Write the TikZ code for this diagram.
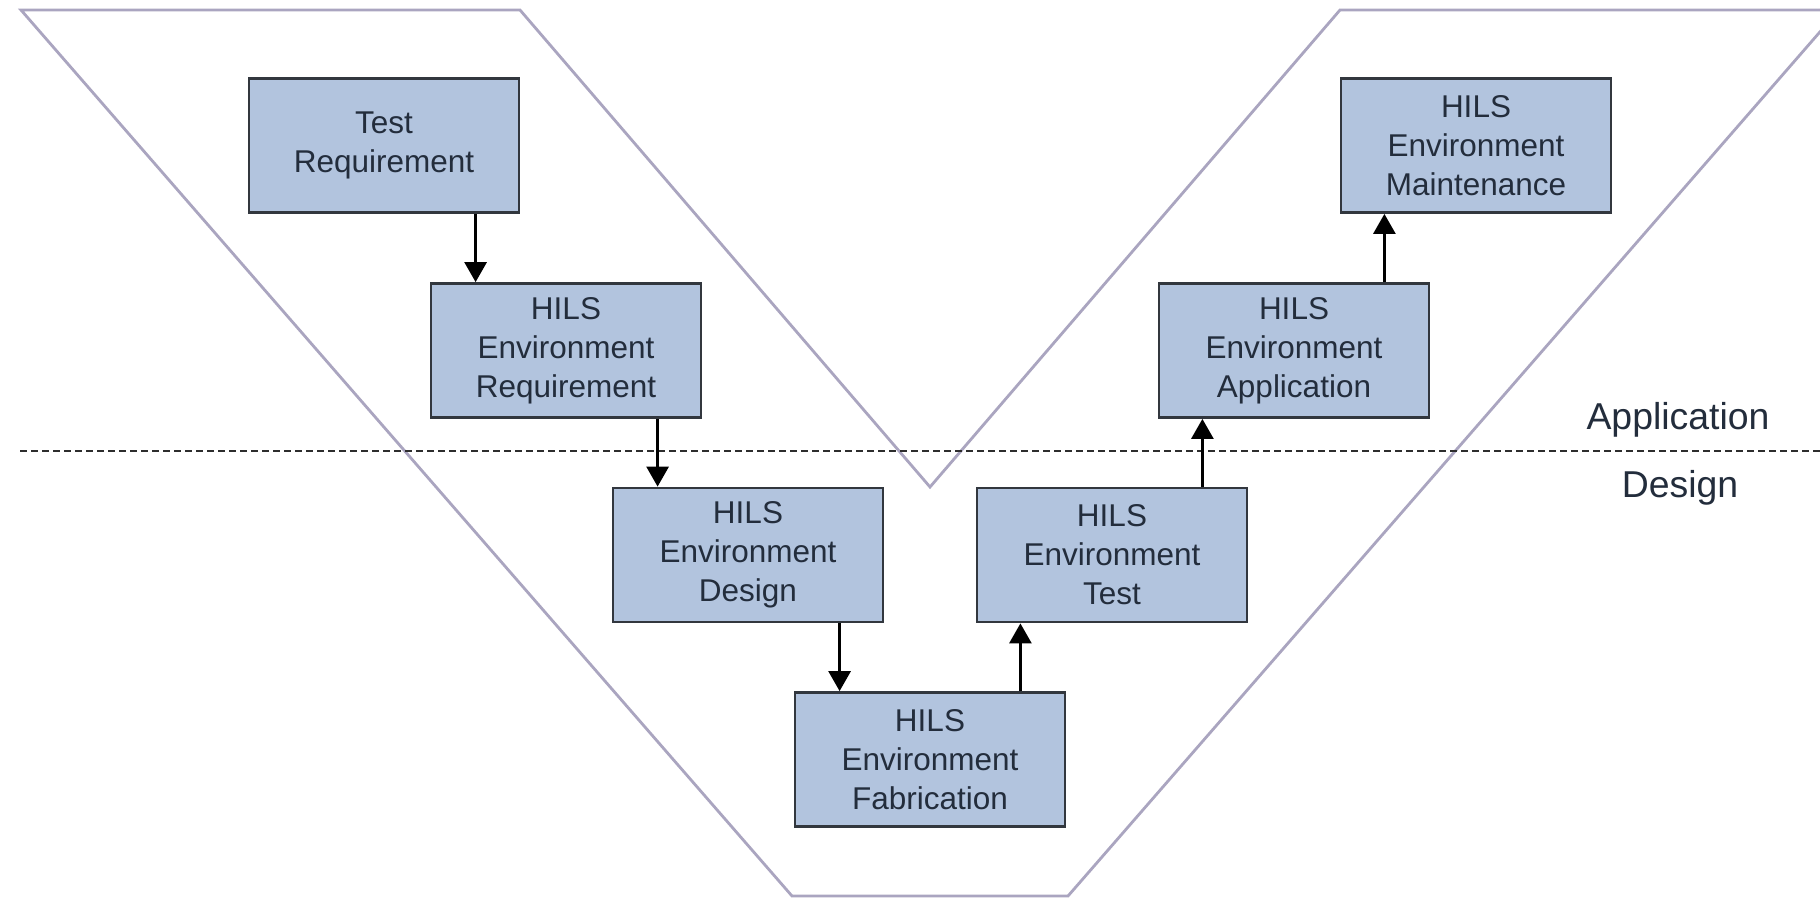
\documentclass[tikz,border=0pt]{standalone}
\usepackage{fontspec}
\setmainfont{Liberation Sans}
\usetikzlibrary{arrows.meta}

\definecolor{boxfill}{RGB}{178,196,222}
\definecolor{boxline}{RGB}{50,55,62}
\definecolor{boxtext}{RGB}{35,45,60}
\definecolor{vline}{RGB}{170,165,192}
\definecolor{divline}{RGB}{45,45,45}

\begin{document}
\begin{tikzpicture}[x=1pt,y=-1pt,
  stage/.style={draw=boxline, line width=2.8pt, fill=boxfill,
    minimum width=270pt, minimum height=134pt, inner sep=0pt,
    align=center, text=boxtext, font=\fontsize{31.5}{39}\selectfont},
  flow/.style={line width=2.8pt, draw=black,
    -{Triangle[width=22pt,length=20pt]}},
  vshape/.style={draw=vline, line width=2.8pt, line join=miter},
  divider/.style={draw=divline, line width=2.6pt, dash pattern=on 7pt off 4pt},
  phase/.style={text=boxtext, font=\fontsize{37.4}{44}\selectfont, inner sep=0pt}]

% canvas
\fill[white] (0,0) rectangle (1820,901);
\useasboundingbox (0,0) rectangle (1820,901);

% V-shaped band
\begin{scope}
  \clip (0,0) rectangle (1820,901);
  \draw[vshape] (21,10) -- (520,10) -- (930,487) -- (1340,10) -- (1839,10)
    -- (1068,896) -- (792,896) -- cycle;
\end{scope}

% boundary between design and application phases
\coordinate (divL) at (20,451);
\coordinate (divR) at (1820,451);
\draw[divider] (divL) -- (divR);
\node[phase, anchor=base] (app) at (1678,429) {Application};
\node[phase, anchor=base] (des) at (1680,497) {Design};

% stages
\node[stage] (b1) at (384,145.5) {Test\\Requirement};
\node[stage] (b2) at (566,350.5) {HILS\\Environment\\Requirement};
\node[stage] (b3) at (748,555) {HILS\\Environment\\Design};
\node[stage] (b4) at (930,759.5) {HILS\\Environment\\Fabrication};
\node[stage] (b5) at (1112,555) {HILS\\Environment\\Test};
\node[stage] (b6) at (1294,350.5) {HILS\\Environment\\Application};
\node[stage] (b7) at (1476,145.5) {HILS\\Environment\\Maintenance};

% descending arrows
\coordinate (d12) at ([xshift=46pt]b2.north west);
\coordinate (d23) at ([xshift=46pt]b3.north west);
\coordinate (d34) at ([xshift=46pt]b4.north west);
\draw[flow] (d12 |- b1.south) -- (d12);
\draw[flow] (d23 |- b2.south) -- (d23);
\draw[flow] (d34 |- b3.south) -- (d34);

% ascending arrows
\coordinate (u45) at ([xshift=-46pt]b4.north east);
\coordinate (u56) at ([xshift=-46pt]b5.north east);
\coordinate (u67) at ([xshift=-46pt]b6.north east);
\draw[flow] (u45) -- (u45 |- b5.south);
\draw[flow] (u56) -- (u56 |- b6.south);
\draw[flow] (u67) -- (u67 |- b7.south);
\end{tikzpicture}
\end{document}
